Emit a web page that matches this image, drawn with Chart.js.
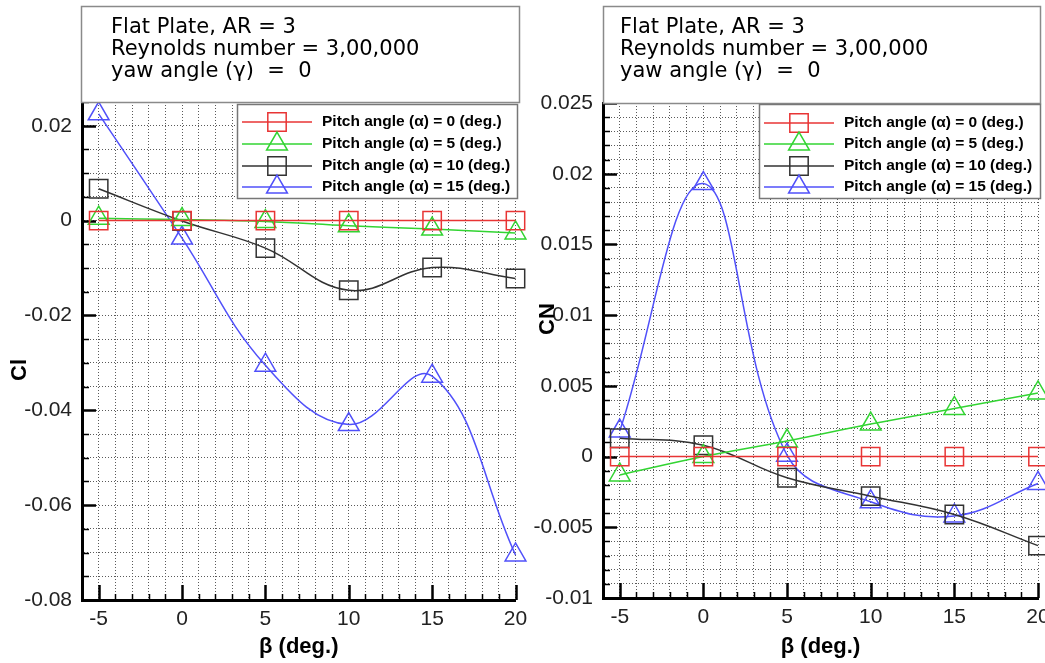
<!DOCTYPE html>
<html><head><meta charset="utf-8">
<script src="https://cdn.jsdelivr.net/npm/chart.js@4.4.1/dist/chart.umd.min.js"></script>
<style>
html,body{margin:0;padding:0;background:#fff;}
#wrap{position:relative;width:1045px;height:663px;overflow:hidden;background:#fff;}
#c1{position:absolute;left:0;top:0;}
#c2{position:absolute;left:530px;top:0;}
</style></head><body>
<div id="wrap"><canvas id="c1" width="530" height="663"></canvas><canvas id="c2" width="536" height="663"></canvas></div>
<script>
// ---- data ----
const beta = [-5, 0, 5, 10, 15, 20];
const seriesNames = ['Pitch angle (\u03b1) = 0 (deg.)', 'Pitch angle (\u03b1) = 5 (deg.)', 'Pitch angle (\u03b1) = 10 (deg.)', 'Pitch angle (\u03b1) = 15 (deg.)'];
const clAlpha0  = [0, 0, 0, 0, 0, 0];
const clAlpha5  = [0.0005, 0.0002, -0.0002, -0.0011, -0.0018, -0.0026];
const clAlpha10 = [0.0067, -0.0001, -0.0058, -0.0147, -0.0099, -0.0122];
const clAlpha15 = [0.0225, -0.0037, -0.0305, -0.0430, -0.0328, -0.0705];
const cnAlpha0  = [0, 0, 0, 0, 0, 0];
const cnAlpha5  = [-0.0013, 0.0000, 0.0011, 0.0023, 0.0034, 0.0045];
const cnAlpha10 = [0.0013, 0.0008, -0.0015, -0.0028, -0.0041, -0.0063];
const cnAlpha15 = [0.0018, 0.0193, 0.0001, -0.0032, -0.0042, -0.0019];
const xTickLabels = [-5, 0, 5, 10, 15, 20];
const clTickLabels = [-0.08, -0.06, -0.04, -0.02, 0, 0.02];
const cnTickLabels = [-0.01, -0.005, 0, 0.005, 0.01, 0.015, 0.02, 0.025];
const titleLines = ['Flat Plate, AR = 3', 'Reynolds number = 3,00,000', 'yaw angle (\u03b3)  =  0'];
const xTitle = '\u03b2 (deg.)';
const clTitle = 'Cl';
const cnTitle = 'CN';

// ---- styles ----
const colors = ['rgb(232,52,52)', 'rgb(50,212,50)', 'rgb(50,50,50)', 'rgb(80,80,250)'];
const styles = ['rect', 'triangle', 'rect', 'triangle'];
const radii = [13, 12, 13, 12];
const tickFont = '"Liberation Sans", Arial, sans-serif';

function has(list, v) { return list.some(t => Math.abs(t - v) < 1e-9); }

function drawMarker(ctx, style, r, x, y) {
  ctx.beginPath();
  if (style === 'rect') {
    const s = Math.SQRT1_2 * r;
    ctx.rect(x - s, y - s, 2 * s, 2 * s);
  } else {
    let rad = 0;
    ctx.moveTo(x + Math.sin(rad) * r, y - Math.cos(rad) * r);
    rad += 2 * Math.PI / 3;
    ctx.lineTo(x + Math.sin(rad) * r, y - Math.cos(rad) * r);
    rad += 2 * Math.PI / 3;
    ctx.lineTo(x + Math.sin(rad) * r, y - Math.cos(rad) * r);
    ctx.closePath();
  }
  ctx.stroke();
}

function makeDecor(conf) {
  return {
    id: 'decor',
    beforeDatasetsDraw(chart) {
      const ctx = chart.ctx, xs = chart.scales.x, ys = chart.scales.y, a = chart.chartArea;
      ctx.save();
      ctx.strokeStyle = '#000';
      xs.ticks.forEach(t => {
        const major = has(xTickLabels, t.value);
        const px = Math.round(xs.getPixelForValue(t.value)) + 0.5;
        ctx.lineWidth = major ? 2.5 : 1.5;
        ctx.beginPath(); ctx.moveTo(px, a.bottom); ctx.lineTo(px, a.bottom - (major ? 15 : 6)); ctx.stroke();
      });
      ys.ticks.forEach(t => {
        const major = has(conf.yLabels, t.value);
        const py = Math.round(ys.getPixelForValue(t.value)) + 0.5;
        ctx.lineWidth = major ? 2.5 : 1.5;
        ctx.beginPath(); ctx.moveTo(a.left, py); ctx.lineTo(a.left + (major ? 14 : 7), py); ctx.stroke();
      });
      ctx.restore();
    },
    afterDraw(chart) {
      const ctx = chart.ctx;
      ctx.save();
      // title box
      const tb = conf.titleBox;
      ctx.fillStyle = '#fff';
      ctx.fillRect(tb[0], tb[1], tb[2], tb[3]);
      ctx.strokeStyle = '#8a8a8a'; ctx.lineWidth = 1.5;
      ctx.strokeRect(tb[0] + 0.5, tb[1] + 0.5, tb[2], tb[3]);
      ctx.fillStyle = '#000';
      ctx.font = '21px "DejaVu Sans", Verdana, sans-serif';
      ctx.textBaseline = 'alphabetic'; ctx.textAlign = 'left';
      titleLines.forEach((l, i) => ctx.fillText(l, conf.titleX, 33 + i * 22));
      // legend box
      const lb = conf.legendBox;
      ctx.fillStyle = '#fff';
      ctx.fillRect(lb[0], lb[1], lb[2], lb[3]);
      ctx.strokeStyle = '#777'; ctx.lineWidth = 1.5;
      ctx.strokeRect(lb[0] + 0.5, lb[1] + 0.5, lb[2], lb[3]);
      ctx.font = 'bold 15.5px ' + tickFont;
      ctx.textBaseline = 'middle';
      conf.legendY.forEach((y, i) => {
        ctx.strokeStyle = colors[i]; ctx.lineWidth = 1.5;
        ctx.beginPath(); ctx.moveTo(conf.legendX0, y); ctx.lineTo(conf.legendX0 + 70, y); ctx.stroke();
        drawMarker(ctx, styles[i], radii[i], conf.legendX0 + 35, y);
        ctx.fillStyle = '#000';
        ctx.fillText(seriesNames[i], conf.legendX0 + 80, y);
      });
      // y axis title
      ctx.translate(conf.yTitlePos[0], conf.yTitlePos[1]);
      ctx.rotate(-Math.PI / 2);
      ctx.font = 'bold 22px ' + tickFont;
      ctx.textAlign = 'center'; ctx.textBaseline = 'middle';
      ctx.fillStyle = '#000';
      ctx.fillText(conf.yTitle, 0, 0);
      ctx.restore();
    }
  };
}

function makeChart(canvasId, series, conf) {
  const datasets = series.map((arr, i) => ({
    label: seriesNames[i],
    data: beta.map((x, j) => ({ x: x, y: arr[j] })),
    borderColor: colors[i],
    borderWidth: 1.5,
    pointStyle: styles[i],
    pointRadius: radii[i],
    pointBorderWidth: 1.5,
    pointBorderColor: colors[i],
    pointBackgroundColor: 'rgba(0,0,0,0)',
    tension: 0.4,
    fill: false,
    clip: false
  }));
  return new Chart(document.getElementById(canvasId), {
    type: 'line',
    data: { datasets },
    options: {
      responsive: false,
      animation: false,
      devicePixelRatio: 1,
      events: [],
      layout: { padding: { left: 0, top: conf.top, right: conf.right, bottom: 0 } },
      plugins: { legend: { display: false }, tooltip: { enabled: false } },
      scales: {
        x: {
          type: 'linear', min: -6, max: 20,
          ticks: {
            stepSize: 1, autoSkip: false, maxRotation: 0, padding: 7,
            font: { family: tickFont, size: 21 }, color: '#222',
            callback: v => has(xTickLabels, v) ? String(v) : ''
          },
          grid: { color: '#5a5a5a', lineWidth: 1, drawTicks: false },
          border: { display: true, color: '#000', width: 3, dash: [1, 2] },
          title: { display: true, text: xTitle, color: '#000',
                   font: { family: tickFont, size: 22, weight: 'bold' }, padding: { top: 0, bottom: 3 } },
          afterFit: s => { s.height = conf.xHeight; s.paddingLeft = 0; s.paddingRight = 0; }
        },
        y: {
          type: 'linear', min: conf.yMin, max: conf.yMax,
          ticks: {
            stepSize: conf.yStep, autoSkip: false, padding: 10,
            font: { family: tickFont, size: 21 }, color: '#222',
            callback: v => has(conf.yLabels, v) ? String(Math.round(v * 1000) / 1000) : ''
          },
          grid: { color: '#5a5a5a', lineWidth: 1, drawTicks: false },
          border: { display: true, color: '#000', width: 3, dash: [1, 2] },
          afterFit: s => { s.width = conf.yWidth; s.paddingTop = 0; s.paddingBottom = 0; }
        }
      }
    },
    plugins: [makeDecor(conf)]
  });
}

makeChart('c1', [clAlpha0, clAlpha5, clAlpha10, clAlpha15], {
  top: 102, right: 14, xHeight: 63, yWidth: 82,
  yMin: -0.08, yMax: 0.025, yStep: 0.005, yLabels: clTickLabels,
  titleBox: [81, 6, 438, 96], titleX: 111,
  legendBox: [237, 104, 280, 94], legendX0: 242, legendY: [122, 144, 166, 187],
  yTitle: clTitle, yTitlePos: [20, 370]
});
makeChart('c2', [cnAlpha0, cnAlpha5, cnAlpha10, cnAlpha15], {
  top: 103, right: 28, xHeight: 65, yWidth: 73,
  yMin: -0.01, yMax: 0.025, yStep: 0.001, yLabels: cnTickLabels,
  titleBox: [73, 6, 437, 97], titleX: 90,
  legendBox: [229, 104, 281, 94], legendX0: 234, legendY: [123, 144, 166, 187],
  yTitle: cnTitle, yTitlePos: [18, 319]
});
</script>
</body></html>
